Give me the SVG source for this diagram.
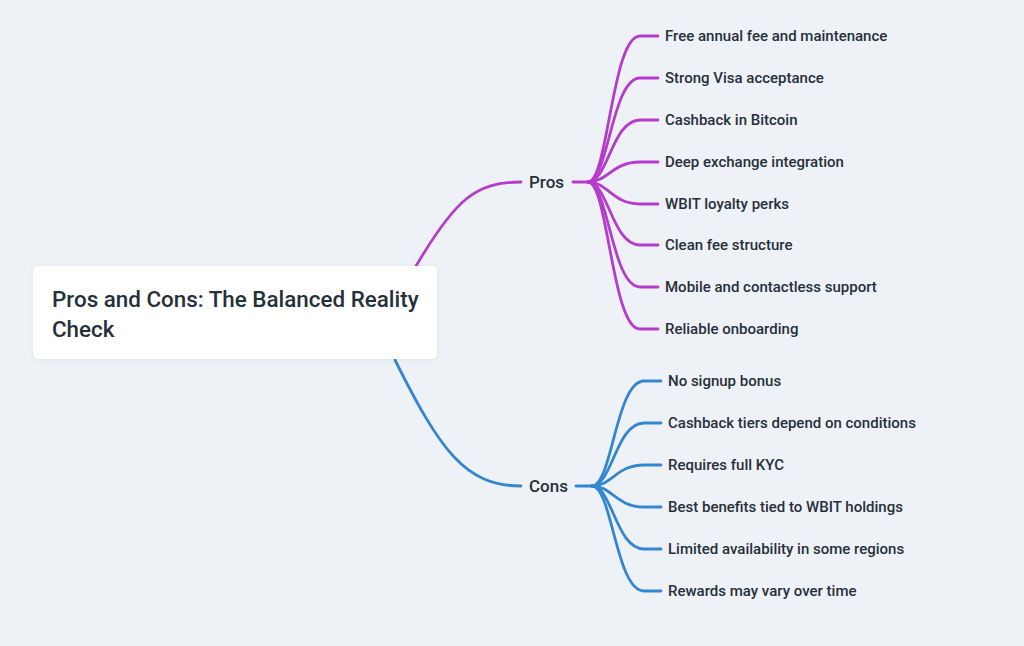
<svg xmlns="http://www.w3.org/2000/svg" width="1024" height="646" viewBox="0 0 1024 646">
<defs>
<style>
.bg{fill:#eef2f7}
.root{fill:#ffffff}
.t{font-family:Roboto,"Liberation Sans",sans-serif;fill:#26303a;font-weight:500}
.rt{font-size:22.4px}
.bt{font-size:17px}
.lt{font-size:15px}
.p{fill:none;stroke:#b53ccc;stroke-width:2.8;stroke-linecap:round}
.c{fill:none;stroke:#3486d0;stroke-width:2.8;stroke-linecap:round}
</style>
<filter id="sh" x="-10%" y="-20%" width="120%" height="140%">
<feDropShadow dx="0" dy="1" stdDeviation="2" flood-color="#000" flood-opacity="0.06"/>
</filter>
</defs>
<rect class="bg" x="0" y="0" width="1024" height="646"/>
<g id="connectors">
<path class="p" d="M416,266 C455,200 475,182 521,182"/>
<path class="c" d="M395,360 C440,450 465,486 521,486"/>
<path class="p" d="M573,182 L588,182"/>
<path class="c" d="M576,486 L592,486"/>
<path class="p" d="M588,182 C608,182 612,36 640,36 L658,36"/>
<path class="p" d="M588,182 C608,182 612,78 640,78 L658,78"/>
<path class="p" d="M588,182 C608,182 612,120 640,120 L658,120"/>
<path class="p" d="M588,182 C608,182 612,162 640,162 L658,162"/>
<path class="p" d="M588,182 C608,182 612,204 640,204 L658,204"/>
<path class="p" d="M588,182 C608,182 612,245 640,245 L658,245"/>
<path class="p" d="M588,182 C608,182 612,287 640,287 L658,287"/>
<path class="p" d="M588,182 C608,182 612,329 640,329 L658,329"/>
<path class="c" d="M592,486 C612,486 616,381 644,381 L661,381"/>
<path class="c" d="M592,486 C612,486 616,423 644,423 L661,423"/>
<path class="c" d="M592,486 C612,486 616,465 644,465 L661,465"/>
<path class="c" d="M592,486 C612,486 616,507 644,507 L661,507"/>
<path class="c" d="M592,486 C612,486 616,549 644,549 L661,549"/>
<path class="c" d="M592,486 C612,486 616,591 644,591 L661,591"/>
</g>
<g id="root">
<rect class="root" x="33" y="266" width="404" height="93" rx="5" filter="url(#sh)"/>
<text class="t rt" x="52" y="307">Pros and Cons: The Balanced Reality</text>
<text class="t rt" x="52" y="337">Check</text>
</g>
<g id="pros"><text class="t bt" x="529" y="188">Pros</text></g>
<g id="cons"><text class="t bt" x="529" y="492">Cons</text></g>
<g id="pros-items">
<text class="t lt" x="665" y="41">Free annual fee and maintenance</text>
<text class="t lt" x="665" y="83">Strong Visa acceptance</text>
<text class="t lt" x="665" y="125">Cashback in Bitcoin</text>
<text class="t lt" x="665" y="167">Deep exchange integration</text>
<text class="t lt" x="665" y="209">WBIT loyalty perks</text>
<text class="t lt" x="665" y="250">Clean fee structure</text>
<text class="t lt" x="665" y="292">Mobile and contactless support</text>
<text class="t lt" x="665" y="334">Reliable onboarding</text>
</g>
<g id="cons-items">
<text class="t lt" x="668" y="386">No signup bonus</text>
<text class="t lt" x="668" y="428">Cashback tiers depend on conditions</text>
<text class="t lt" x="668" y="470">Requires full KYC</text>
<text class="t lt" x="668" y="512">Best benefits tied to WBIT holdings</text>
<text class="t lt" x="668" y="554">Limited availability in some regions</text>
<text class="t lt" x="668" y="596">Rewards may vary over time</text>
</g>
</svg>
